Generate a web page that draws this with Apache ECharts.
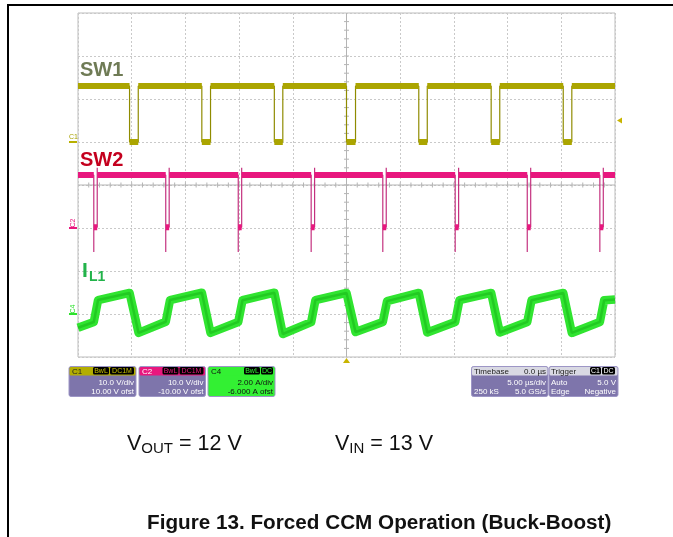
<!DOCTYPE html>
<html><head><meta charset="utf-8">
<script src="https://cdn.jsdelivr.net/npm/echarts@6/dist/echarts.min.js"></script>
<style>html,body{margin:0;padding:0;background:#fff}#c{width:673px;height:537px}</style>
</head><body><div id="c"></div>
<script>
// ---- data ----
// time axis: µs, 5 µs/div, trigger at 0
const timeRange = [-25, 25];
// C1: SW1 node (V), 10 V/div
const sw1FallTimes = [-20.2, -13.47, -6.72, 0, 6.73, 13.47, 20.18];
const sw1RiseTimes = [-19.39, -12.66, -5.93, 0.84, 7.52, 14.27, 20.98];
const sw1Levels = { high: 13.0, low: 0.0 };
// C2: SW2 node (V), 10 V/div
const sw2FallTimes = [-23.53, -16.83, -10.08, -3.29, 3.38, 10.12, 16.83, 23.59];
const sw2RiseTimes = [-23.21, -16.51, -9.76, -2.97, 3.70, 10.44, 17.15, 23.91];
const sw2Levels = { high: 12.3, low: 0.2, spike: -5.6, overshoot: 14.0 };
// C4: inductor current IL1 (A), 2 A/div
const ilTimes = [-25, -23.53, -23.13, -20.2, -19.36, -16.83, -16.43, -13.47, -12.66, -10.08, -9.68, -6.72, -5.93,
  -3.29, -2.89, 0, 0.84, 3.38, 3.78, 6.73, 7.52, 10.12, 10.52, 13.47, 14.27, 16.83, 17.23, 20.18, 20.98, 23.59, 23.99, 25];
const ilAmps = [-0.64, -0.37, 0.65, 0.98, -0.88, -0.36, 0.65, 0.99, -0.88, -0.37, 0.64, 0.99, -0.93,
  -0.38, 0.65, 0.98, -0.84, -0.37, 0.60, 0.98, -0.86, -0.37, 0.65, 0.98, -0.86, -0.37, 0.64, 0.98, -0.88, -0.37, 0.64, 0.67];
// channel scales (value at top / bottom of the 8-div screen)
const c1Range = [-50, 30];
const c2Range = [-30, 50];
const c4Range = [-2, 14];

// ---- build traces ----
function withGaps(segs) {
  const out = [];
  segs.forEach((s, i) => { if (i) out.push([s[0][0], null]); s.forEach(p => out.push(p)); });
  return out;
}
const T0 = timeRange[0], T1 = timeRange[1];
// SW1
const sw1HighSegs = [[[T0, sw1Levels.high], [sw1FallTimes[0], sw1Levels.high]]];
sw1RiseTimes.forEach((r, i) => {
  const end = i + 1 < sw1FallTimes.length ? sw1FallTimes[i + 1] : T1;
  sw1HighSegs.push([[r, sw1Levels.high], [end, sw1Levels.high]]);
});
const sw1LowSegs = sw1FallTimes.map((f, i) => [[f, sw1Levels.low], [sw1RiseTimes[i], sw1Levels.low]]);
const sw1Edge = [[T0, sw1Levels.high]];
sw1FallTimes.forEach((f, i) => {
  sw1Edge.push([f, sw1Levels.high], [f, sw1Levels.low], [sw1RiseTimes[i], sw1Levels.low], [sw1RiseTimes[i], sw1Levels.high]);
});
sw1Edge.push([T1, sw1Levels.high]);
// SW2
const sw2HighSegs = [[[T0, sw2Levels.high], [sw2FallTimes[0], sw2Levels.high]]];
sw2RiseTimes.forEach((r, i) => {
  const end = i + 1 < sw2FallTimes.length ? sw2FallTimes[i + 1] : T1;
  sw2HighSegs.push([[r, sw2Levels.high], [end, sw2Levels.high]]);
});
const sw2LowSegs = sw2FallTimes.map((f, i) => [[f, sw2Levels.low], [sw2RiseTimes[i], sw2Levels.low]]);
const sw2Edge = [[T0, sw2Levels.high]];
sw2FallTimes.forEach((f, i) => {
  const r = sw2RiseTimes[i];
  sw2Edge.push([f, sw2Levels.high], [f, sw2Levels.spike], [f, sw2Levels.low], [r, sw2Levels.low], [r, sw2Levels.overshoot], [r, sw2Levels.high]);
});
sw2Edge.push([T1, sw2Levels.high]);
// IL
const ilData = ilTimes.map((t, i) => [t, ilAmps[i]]);

const base = { type: 'line', showSymbol: false, symbol: 'none', animation: false, silent: true, connectNulls: false };
const chart = echarts.init(document.getElementById('c'), null, { renderer: 'canvas' });
const GRID = { left: 78, top: 13, width: 537, height: 344 };
const dashed = { show: true, lineStyle: { color: '#c9c9c9', width: 1, type: [2, 2] } };
chart.setOption({
  animation: false,
  backgroundColor: '#ffffff',
  grid: Object.assign({ show: true, borderColor: '#bdbdbd', borderWidth: 1, backgroundColor: '#fff' }, GRID),
  xAxis: { type: 'value', min: T0, max: T1, interval: 5, axisLine: { show: false }, axisTick: { show: false }, axisLabel: { show: false }, splitLine: dashed },
  yAxis: [
    { type: 'value', min: c1Range[0], max: c1Range[1], interval: 10, axisLine: { show: false }, axisTick: { show: false }, axisLabel: { show: false }, splitLine: dashed },
    { type: 'value', min: c2Range[0], max: c2Range[1], show: false, splitLine: { show: false } },
    { type: 'value', min: c4Range[0], max: c4Range[1], show: false, splitLine: { show: false } }
  ],
  series: [
    Object.assign({}, base, { yAxisIndex: 0, data: sw1Edge, lineStyle: { color: '#8f8b00', width: 1.2 }, z: 3 }),
    Object.assign({}, base, { yAxisIndex: 0, data: withGaps(sw1HighSegs.concat(sw1LowSegs)), lineStyle: { color: '#aba500', width: 6, cap: 'butt' }, z: 4 }),
    Object.assign({}, base, { yAxisIndex: 1, data: sw2Edge, lineStyle: { color: '#c4317f', width: 1.2 }, z: 3 }),
    Object.assign({}, base, { yAxisIndex: 1, data: withGaps(sw2HighSegs.concat(sw2LowSegs)), lineStyle: { color: '#e8177e', width: 6, cap: 'butt' }, z: 4 }),
    Object.assign({}, base, { yAxisIndex: 2, data: ilData, lineStyle: { color: '#30e430', width: 8.5, join: 'round' }, z: 5 }),
    Object.assign({}, base, { yAxisIndex: 2, data: ilData, lineStyle: { color: '#1cbf1c', width: 2.5, opacity: 0.7 }, z: 6 })
  ]
});

// ---- decorations ----
const g = [];
const F = '"Liberation Sans", Arial, sans-serif';
function txt(x, y, text, font, fill, align, vAlign) {
  return { type: 'text', x: x, y: y, z: 50, silent: true,
    style: { text: text, font: font, fill: fill, align: align || 'left', verticalAlign: vAlign || 'middle', textAlign: align || 'left', textVerticalAlign: vAlign || 'middle' } };
}
function rect(x, y, w, h, fill, stroke, r, z) {
  return { type: 'rect', z: z || 40, silent: true, shape: { x: x, y: y, width: w, height: h, r: r || 0 }, style: { fill: fill, stroke: stroke || null, lineWidth: stroke ? 1 : 0 } };
}
function line(x1, y1, x2, y2, color, w, z) {
  return { type: 'line', z: z || 2, silent: true, shape: { x1: x1, y1: y1, x2: x2, y2: y2 }, style: { stroke: color, lineWidth: w || 1 } };
}
// document frame
g.push(line(8, 5, 673, 5, '#000', 2, 60));
g.push(line(8, 4, 8, 537, '#000', 2, 60));
// centre cross lines with minor ticks
const cx = chart.convertToPixel({ xAxisIndex: 0 }, 0);
const cy = chart.convertToPixel({ yAxisIndex: 0 }, -10);
const gx0 = GRID.left, gx1 = GRID.left + GRID.width, gy0 = GRID.top, gy1 = GRID.top + GRID.height;
g.push(line(cx, gy0, cx, gy1, '#b4b4b4', 1, 2));
g.push(line(gx0, cy, gx1, cy, '#b4b4b4', 1, 2));
for (let k = 1; k < 40; k++) {
  const y = gy0 + k * GRID.height / 40;
  g.push(line(cx - 2.5, y, cx + 2.5, y, '#b4b4b4', 1, 2));
}
for (let k = 1; k < 50; k++) {
  const x = gx0 + k * GRID.width / 50;
  g.push(line(x, cy - 2.5, x, cy + 2.5, '#b4b4b4', 1, 2));
}
// trace names
g.push(txt(80, 70, 'SW1', 'bold 20px ' + F, '#6f7b55'));
g.push(txt(80, 160, 'SW2', 'bold 20px ' + F, '#c4001e'));
g.push(txt(82, 271, 'I', 'bold 21px ' + F, '#22b34a'));
g.push(txt(89, 277, 'L1', 'bold 14px ' + F, '#22b34a'));
// channel ground markers
const c1y = chart.convertToPixel({ yAxisIndex: 0 }, 0);
const c2y = chart.convertToPixel({ yAxisIndex: 1 }, 0);
const c4y = chart.convertToPixel({ yAxisIndex: 2 }, 0);
g.push(line(69, c1y, 77, c1y, '#b8b000', 2, 45));
g.push(line(69, c2y, 77, c2y, '#e8177e', 2, 45));
g.push(line(69, c4y, 77, c4y, '#2ee22e', 2, 45));
function vlabel(x, y, text, color) {
  g.push({ type: 'group', x: x, y: y, rotation: Math.PI / 2, children: [
    { type: 'text', x: 0, y: 0, z: 50, silent: true,
      style: { text: text, font: '7px ' + F, fill: color, align: 'center', verticalAlign: 'middle', textAlign: 'center', textVerticalAlign: 'middle' } }
  ] });
}
vlabel(73, c2y - 5, 'C2', '#e8177e');
vlabel(73, c4y - 5, 'C4', '#2ee22e');
// trigger markers
const trigY = chart.convertToPixel({ yAxisIndex: 0 }, 5);
g.push({ type: 'polygon', z: 45, silent: true, shape: { points: [[617, trigY], [622, trigY - 3], [622, trigY + 3]] }, style: { fill: '#c8b400' } });
g.push({ type: 'polygon', z: 45, silent: true, shape: { points: [[cx, gy1 + 1], [cx - 3.5, gy1 + 6], [cx + 3.5, gy1 + 6]] }, style: { fill: '#c8b400' } });

// info boxes
const BY = 366.5, BH = 30, HH = 8.5;
const boxBody = '#7e75ab', boxStroke = '#9d96c6';
function badge(x, y, w, text, fg) {
  g.push(rect(x, y + 0.5, w, HH - 1, '#000', null, 1.5, 41));
  g.push(txt(x + w / 2, y + HH / 2 + 0.3, text, '7px ' + F, fg, 'center'));
}
function chBox(x, w, name, hdr, nameFg, badgeFg, badges, l1, l2, body, bodyFg) {
  g.push(rect(x, BY, w, BH, body, boxStroke, 2, 40));
  g.push(rect(x + 0.5, BY + 0.5, w - 1, HH, hdr, null, 1.5, 40));
  g.push(txt(x + 3, BY + HH / 2 + 0.8, name, '8px ' + F, nameFg));
  let bx = x + w - 2;
  for (let i = badges.length - 1; i >= 0; i--) {
    const bw = badges[i][1];
    bx -= bw;
    badge(bx, BY, bw, badges[i][0], badgeFg);
    bx -= 1;
  }
  g.push(txt(x + w - 2, BY + 16.5, l1, '8px ' + F, bodyFg, 'right'));
  g.push(txt(x + w - 2, BY + 25.5, l2, '8px ' + F, bodyFg, 'right'));
}
chBox(69, 67, 'C1', '#b3ad00', '#222', '#c8c000', [['BwL', 16], ['DC1M', 24]], '10.0 V/div', '10.00 V ofst', boxBody, '#fff');
chBox(139, 66.5, 'C2', '#e8177e', '#fff', '#e8177e', [['BwL', 16], ['DC1M', 24]], '10.0 V/div', '-10.00 V ofst', boxBody, '#fff');
chBox(208, 67, 'C4', '#33f033', '#111', '#33f033', [['BwL', 16], ['DC', 12]], '2.00 A/div', '-6.000 A ofst', '#33f033', '#111');
// timebase
g.push(rect(471.5, BY, 76.5, BH, boxBody, boxStroke, 2, 40));
g.push(rect(472, BY + 0.5, 75.5, HH, '#d9d9e3', null, 1.5, 40));
g.push(txt(474, BY + HH / 2 + 0.8, 'Timebase', '8px ' + F, '#222'));
g.push(txt(546, BY + HH / 2 + 0.8, '0.0 µs', '8px ' + F, '#222', 'right'));
g.push(txt(546, BY + 16.5, '5.00 µs/div', '8px ' + F, '#fff', 'right'));
g.push(txt(474, BY + 25.5, '250 kS', '8px ' + F, '#fff'));
g.push(txt(546, BY + 25.5, '5.0 GS/s', '8px ' + F, '#fff', 'right'));
// trigger
g.push(rect(549, BY, 69, BH, boxBody, boxStroke, 2, 40));
g.push(rect(549.5, BY + 0.5, 68, HH, '#d9d9e3', null, 1.5, 40));
g.push(txt(551, BY + HH / 2 + 0.8, 'Trigger', '8px ' + F, '#222'));
badge(590, BY, 11, 'C1', '#fff');
badge(602, BY, 13, 'DC', '#fff');
g.push(txt(551, BY + 16.5, 'Auto', '8px ' + F, '#fff'));
g.push(txt(616, BY + 16.5, '5.0 V', '8px ' + F, '#fff', 'right'));
g.push(txt(551, BY + 25.5, 'Edge', '8px ' + F, '#fff'));
g.push(txt(616, BY + 25.5, 'Negative', '8px ' + F, '#fff', 'right'));

// conditions line
const ctx = document.createElement('canvas').getContext('2d');
function w(text, font) { ctx.font = font; return ctx.measureText(text).width; }
const bigF = '21.5px ' + F, subF = '15px ' + F;
function vsub(x, y, main, sub, rest) {
  g.push(txt(x, y, main, bigF, '#111', 'left', 'middle'));
  const x2 = x + w(main, bigF);
  g.push(txt(x2, y + 5, sub, subF, '#111', 'left', 'middle'));
  const x3 = x2 + w(sub, subF);
  g.push(txt(x3, y, rest, bigF, '#111', 'left', 'middle'));
}
vsub(127, 444, 'V', 'OUT', ' = 12 V');
vsub(335, 444, 'V', 'IN', ' = 13 V');
// caption
g.push(txt(147, 523, 'Figure 13. Forced CCM Operation (Buck-Boost)', 'bold 20.7px ' + F, '#111', 'left', 'middle'));
// C1 ground label (horizontal)
g.push(txt(69, c1y - 5, 'C1', '7px ' + F, '#a8a200', 'left', 'middle'));

chart.setOption({ graphic: { elements: g } });
</script>
</body></html>
